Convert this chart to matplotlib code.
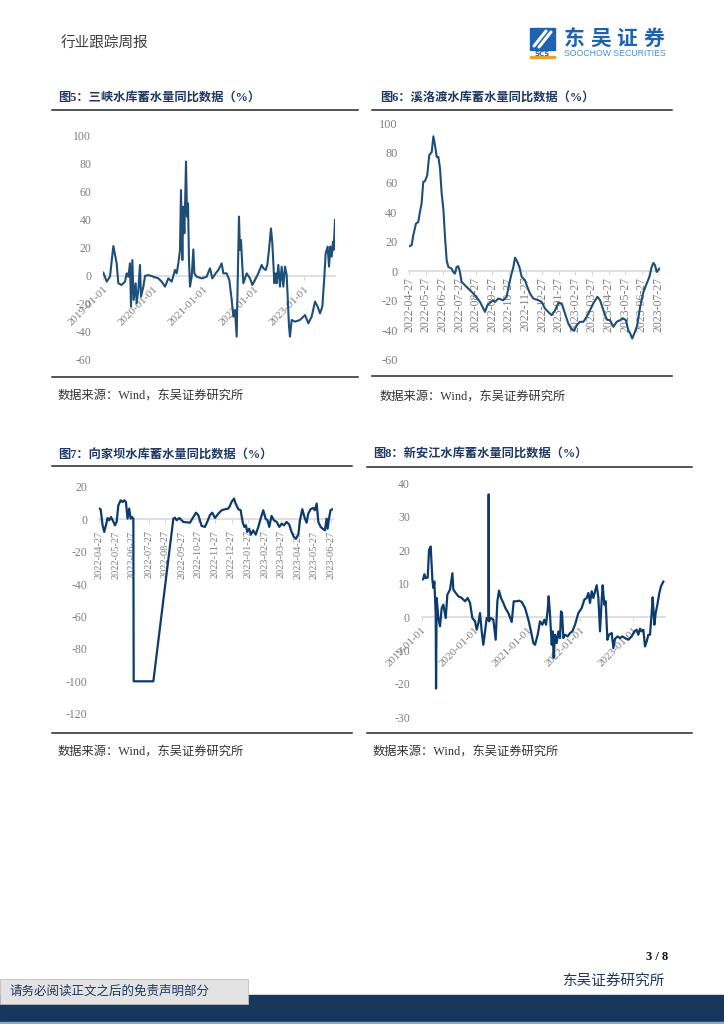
import matplotlib
matplotlib.use('Agg')
import matplotlib.pyplot as plt
from matplotlib.patches import Rectangle

W, H = 724, 1024
plt.rcParams['font.family'] = ['Liberation Serif', 'Noto Sans CJK SC']
plt.rcParams['axes.unicode_minus'] = False

# 图5 三峡 (decimal year, %)
s5_t = [2019.007, 2019.073, 2019.139, 2019.206, 2019.272, 2019.305, 2019.371, 2019.438, 2019.471, 2019.504,
        2019.537, 2019.557, 2019.584, 2019.610, 2019.650, 2019.670, 2019.703, 2019.736, 2019.756, 2019.803,
        2019.836, 2019.902, 2020.002, 2020.101, 2020.167, 2020.234, 2020.300, 2020.367, 2020.433, 2020.466,
        2020.499, 2020.532, 2020.552, 2020.579, 2020.599, 2020.619, 2020.632, 2020.652, 2020.672, 2020.692,
        2020.711, 2020.731, 2020.765, 2020.798, 2020.818, 2020.864, 2020.964, 2021.063, 2021.129, 2021.176,
        2021.242, 2021.295, 2021.362, 2021.395, 2021.461, 2021.514, 2021.561, 2021.594, 2021.627, 2021.660,
        2021.680, 2021.706, 2021.726, 2021.746, 2021.773, 2021.793, 2021.859, 2021.925, 2021.972, 2022.025,
        2022.091, 2022.158, 2022.191, 2022.237, 2022.270, 2022.303, 2022.343, 2022.370, 2022.410, 2022.436,
        2022.456, 2022.489, 2022.522, 2022.556, 2022.589, 2022.622, 2022.655, 2022.675, 2022.702, 2022.721,
        2022.755, 2022.821, 2022.920, 2023.020, 2023.086, 2023.153, 2023.219, 2023.272, 2023.318, 2023.365,
        2023.405, 2023.431, 2023.471, 2023.498, 2023.524, 2023.551, 2023.577, 2023.590, 2023.617]
s5_v = [2.4, -4.0, -0.5, 21.4, 9.0, -5.2, -6.4, -4.0, 1.9, -0.5,
        9.0, -21.9, 11.4, -17.1, -5.2, -19.5, -10.0, 7.9, -14.8, -7.6,
        0.0, 0.7, -0.5, -1.7, -4.0, -7.6, -1.7, -4.0, 4.3, 1.9,
        9.0, 18.6, 61.4, 11.4, 49.5, 30.5, 48.3, 81.7, 42.4, 51.9,
        11.4, -7.6, -0.5, 19.0, 1.9, -0.5, -1.7, -0.5, 5.5, -1.7,
        1.9, 4.3, 9.0, 1.9, 1.9, -2.9, -17.1, -29.0, -24.3, -43.3,
        -5.2, 42.4, 18.6, 25.7, 6.7, -5.2, 1.9, -1.7, -6.4, -2.9,
        1.9, 7.9, 5.5, 4.3, 7.9, 18.6, 34.0, 23.3, -5.2, 1.9,
        -5.2, 7.9, -7.6, 6.7, -7.6, 6.7, 0.7, -14.8, -36.2, -43.3,
        -31.4, -32.6, -31.4, -27.9, -33.8, -29.0, -18.3, -21.9, -26.7, -21.9,
        -0.5, 16.2, 21.0, 6.7, 21.0, 13.8, 24.5, 18.6, 40.0]

# 图6 溪洛渡 (months after 2022-04-27, %)
s6_m = [0.00, 0.14, 0.24, 0.40, 0.54, 0.64, 0.74, 0.84, 0.94, 1.08, 1.20, 1.35, 1.45, 1.55, 1.65, 1.75,
        1.85, 1.95, 2.05, 2.15, 2.25, 2.35, 2.55, 2.65, 2.75, 2.85, 2.95, 3.05, 3.15, 3.45, 3.86, 4.26,
        4.56, 4.70, 4.86, 5.02, 5.16, 5.36, 5.66, 5.86, 6.02, 6.16, 6.27, 6.37, 6.51, 6.63, 6.77, 6.97,
        7.07, 7.27, 7.47, 7.77, 7.97, 8.17, 8.37, 8.57, 8.78, 8.98, 9.18, 9.38, 9.58, 9.78, 9.92, 10.08,
        10.28, 10.48, 10.68, 10.88, 11.08, 11.33, 11.49, 11.69, 11.89, 12.09, 12.29, 12.49, 12.69, 12.89,
        13.05, 13.19, 13.29, 13.43, 13.59, 13.73, 13.90, 14.10, 14.30, 14.46, 14.60, 14.70, 14.80, 14.90, 15.06]
s6_v = [16.9, 17.6, 24.3, 32.2, 33.3, 40.1, 45.7, 60.4, 60.8, 64.9, 78.4, 80.6, 91.2, 85.1, 77.3, 77.3,
        69.4, 52.5, 42.3, 23.2, 7.4, 2.9, 1.8, -0.5, -1.6, 2.9, 3.4, -0.5, -7.2, -10.6, -15.1, -20.7,
        -27.5, -23.0, -21.4, -19.6, -20.7, -18.5, -19.6, -17.3, -8.3, -1.6, 2.9, 9.2, 6.3, 2.9, -3.8, -6.1,
        -9.5, -15.1, -18.5, -19.6, -20.7, -25.2, -27.5, -29.7, -26.4, -21.4, -21.8, -28.6, -35.4, -39.4, -40.3, -36.5,
        -34.2, -34.2, -30.9, -26.4, -21.8, -17.3, -19.6, -26.4, -32.7, -33.1, -37.6, -34.2, -33.1, -32.0,
        -33.1, -39.9, -41.7, -45.5, -41.0, -36.5, -24.1, -14.0, -8.3, -3.8, 2.9, 5.6, 4.1, -0.5, 1.8]
s6_labels = ['2022-04-27', '2022-05-27', '2022-06-27', '2022-07-27', '2022-08-27', '2022-09-27',
             '2022-10-27', '2022-11-27', '2022-12-27', '2023-01-27', '2023-02-27', '2023-03-27',
             '2023-04-27', '2023-05-27', '2023-06-27', '2023-07-27']

# 图7 向家坝 (months after 2022-04-27, %)
s7_m = [0.00, 0.08, 0.20, 0.30, 0.40, 0.50, 0.60, 0.71, 0.81, 0.95, 1.05, 1.15, 1.29, 1.41, 1.51, 1.61,
        1.71, 1.81, 1.90, 1.98, 2.06, 2.08, 3.27, 4.48, 4.58, 4.68, 4.84, 5.08, 5.48, 5.69, 5.85, 5.99,
        6.19, 6.39, 6.53, 6.69, 6.83, 7.00, 7.20, 7.40, 7.60, 7.80, 7.90, 8.00, 8.15, 8.25, 8.41, 8.55,
        8.67, 8.77, 8.87, 8.95, 9.07, 9.17, 9.31, 9.46, 9.62, 9.76, 9.92, 10.06, 10.18, 10.28, 10.42, 10.56,
        10.73, 10.89, 11.03, 11.17, 11.33, 11.49, 11.63, 11.77, 11.90, 12.04, 12.14, 12.28, 12.44, 12.54,
        12.64, 12.78, 12.94, 13.04, 13.15, 13.25, 13.39, 13.51, 13.65, 13.75, 13.81, 13.91, 13.99, 14.11]
s7_v = [6.6, 6.2, -3.7, -7.8, -3.7, 0.8, -0.6, 1.4, -0.6, -3.7, -1.6, 8.6, 11.7, 10.7, 11.7, 10.7,
        0.4, 6.6, 0.4, 1.4, 0.4, -100.0, -100.0, 0.4, 1.0, -0.6, 0.8, -1.6, -2.1, 1.4, 4.1, 2.5,
        -4.1, -4.7, -1.6, 2.5, 4.1, 0.8, 3.5, 5.6, 6.2, 6.6, 8.2, 10.7, 12.8, 9.7, 6.2, 5.6,
        -1.6, -4.7, -3.7, -7.8, -5.8, -9.5, -6.8, -9.5, -4.7, 0.4, 5.6, 0.4, -0.6, -4.7, 2.1, -0.6,
        -1.6, -4.7, -2.7, -3.7, -1.6, -3.3, -7.8, -10.9, -11.9, -9.5, -0.6, 6.2, 0.4, -2.1,
        3.5, 6.2, 7.0, 5.6, 9.7, -1.6, -4.7, -5.8, -6.8, 0.4, -5.8, 1.4, 5.6, 6.2]
s7_labels = s6_labels[:15]

# 图8 新安江 (decimal year, %)
s8_t = [2019.000, 2019.031, 2019.050, 2019.076, 2019.113, 2019.139, 2019.170, 2019.202, 2019.220, 2019.239,
        2019.265, 2019.271, 2019.283, 2019.315, 2019.346, 2019.378, 2019.409, 2019.454, 2019.485, 2019.535,
        2019.580, 2019.598, 2019.643, 2019.693, 2019.756, 2019.819, 2019.869, 2019.913, 2019.957, 2020.008,
        2020.039, 2020.071, 2020.102, 2020.134, 2020.165, 2020.197, 2020.228, 2020.260, 2020.266, 2020.272,
        2020.310, 2020.354, 2020.398, 2020.430, 2020.461, 2020.499, 2020.543, 2020.587, 2020.638, 2020.701,
        2020.739, 2020.795, 2020.839, 2020.890, 2020.953, 2021.016, 2021.066, 2021.110, 2021.142, 2021.192,
        2021.236, 2021.280, 2021.318, 2021.350, 2021.381, 2021.400, 2021.425, 2021.457, 2021.476, 2021.494,
        2021.520, 2021.551, 2021.583, 2021.614, 2021.633, 2021.652, 2021.677, 2021.709, 2021.759, 2021.803,
        2021.847, 2021.898, 2021.961, 2022.024, 2022.074, 2022.118, 2022.150, 2022.181, 2022.213, 2022.244,
        2022.276, 2022.307, 2022.339, 2022.370, 2022.402, 2022.420, 2022.452, 2022.477, 2022.509, 2022.540,
        2022.591, 2022.622, 2022.654, 2022.704, 2022.748, 2022.792, 2022.843, 2022.906, 2022.969, 2023.019,
        2023.063, 2023.094, 2023.126, 2023.157, 2023.189, 2023.220, 2023.252, 2023.283, 2023.315, 2023.346,
        2023.365, 2023.397, 2023.422, 2023.454, 2023.491, 2023.523, 2023.567]
s8_v = [11.1, 11.4, 12.8, 11.6, 11.8, 20.1, 21.1, 11.1, 8.7, 10.6,
        0.7, -21.4, 5.7, -0.3, -2.8, 2.7, 3.7, -0.3, 6.7, 8.2,
        13.1, 8.2, 7.2, 6.2, 5.7, 4.7, 5.7, 4.2, -0.3, -1.3,
        -3.8, -1.8, 1.2, -4.3, -8.3, -4.3, -0.3, -0.8, 36.7, -1.3,
        -0.3, -0.8, -6.8, 4.7, 7.9, 5.7, 4.2, 2.5, 1.2, -1.5,
        4.7, 4.7, 4.9, 4.5, 2.7, -0.8, -4.3, -7.8, -8.3, -5.3,
        -1.3, -2.3, -0.8, -2.3, 2.2, 6.2, 0.7, -8.3, -4.3, -12.2,
        -5.3, -7.8, -4.3, -6.3, 1.7, 1.2, -6.3, -5.3, -5.8, -4.8,
        -4.3, -2.3, 1.2, 2.7, 5.2, 5.7, 7.2, 4.2, 7.7, 5.7,
        7.7, 9.5, 5.7, -4.3, 5.2, 9.5, 3.7, 4.7, -6.8, -5.3,
        -4.8, -9.3, -6.5, -5.8, -6.3, -5.8, -6.3, -6.8, -5.8, -4.3,
        -3.8, -5.3, -3.5, -4.3, -3.8, -8.8, -7.3, -5.3, -5.3, 1.2,
        5.9, -2.3, 1.2, 3.7, 7.2, 9.2, 10.6]

year_ticks = [2019, 2020, 2021, 2022, 2023]
year_labels = ['2019-01-01', '2020-01-01', '2021-01-01', '2022-01-01', '2023-01-01']

titles = ['图5：三峡水库蓄水量同比数据（%）', '图6：溪洛渡水库蓄水量同比数据（%）',
          '图7：向家坝水库蓄水量同比数据（%）', '图8：新安江水库蓄水量同比数据（%）']
source = '数据来源：Wind，东吴证券研究所'

NAVY = '#1f3864'
GRAY = '#7f7f7f'

fig = plt.figure(figsize=(W / 100, H / 100), dpi=100)
page = fig.add_axes([0, 0, 1, 1])
page.set_xlim(0, W)
page.set_ylim(H, 0)
page.axis('off')

# header
page.text(61, 44, '行业跟踪周报', fontsize=10.5, color='#404040', va='center', family='Noto Sans CJK SC')
page.add_patch(Rectangle((530, 28), 25, 22, color='#1f63b0'))
page.plot([534, 546], [46, 31], color='white', lw=2.2, solid_capstyle='round')
page.plot([539, 551], [47, 32], color='white', lw=2.2, solid_capstyle='round')
page.text(542.5, 53.5, 'SCS', fontsize=5, color='#1f63b0', ha='center', va='center',
          fontweight='bold', family='DejaVu Sans')
page.add_patch(Rectangle((530, 56), 25, 1.6, color='#f0a030'))
for i, ch in enumerate('东吴证券'):
    page.text(574 + i * 26.5, 38.5, ch, fontsize=15, color='#1f63b0', ha='center', va='center',
              fontweight='bold', family='Noto Sans CJK SC')
page.text(615, 54, 'SOOCHOW SECURITIES', fontsize=6.3, color='#4a90d0', ha='center', va='center',
          family='Liberation Sans')

# footer
page.text(668, 957, '3 / 8', fontsize=9, fontweight='bold', ha='right', va='center', color='#111111')
page.text(665, 981, '东吴证券研究所', fontsize=10.5, ha='right', va='center', color=NAVY,
          family='Noto Sans CJK SC')
page.add_patch(Rectangle((0, 995), W, 27, color='#17375e'))
page.add_patch(Rectangle((0, 1022), W, 2, color='#8ea9c8'))
page.add_patch(Rectangle((0, 979), 248, 25, facecolor='#e3e3e3', edgecolor='#bdbdbd', lw=0.6))
page.text(9, 991, '请务必阅读正文之后的免责声明部分', fontsize=9, va='center', color=NAVY,
          family='Noto Sans CJK SC')


def panel(x0, x1, ytop, ybot, title, tx, ty, sy):
    page.plot([x0, x1], [ytop, ytop], color='#262626', lw=1.1)
    page.plot([x0, x1], [ybot, ybot], color='#262626', lw=1.1)
    page.text(tx, ty, title, fontsize=8.8, fontweight='bold', color=NAVY, va='center')
    page.text(tx, sy, source, fontsize=8.8, color='#333333', va='center')


panel(52, 358, 109.5, 376.5, titles[0], 58, 98, 396.5)
panel(372, 672, 109.5, 376, titles[1], 380, 98, 397.5)
panel(52, 352, 466, 733, titles[2], 58, 455, 753)
panel(367, 692, 466.5, 733, titles[3], 373, 455, 753)


def chart_axes(left, top, width, height):
    return fig.add_axes([left / W, 1 - (top + height) / H, width / W, height / H])


def style(ax, yticks, ysize, xsize, xpad):
    for s in ['top', 'right', 'left']:
        ax.spines[s].set_visible(False)
    ax.spines['bottom'].set_position(('data', 0))
    ax.spines['bottom'].set_color('#d9d9d9')
    ax.spines['bottom'].set_linewidth(1.2)
    ax.set_yticks(yticks)
    ax.tick_params(axis='y', length=0, pad=8.5, labelsize=ysize, labelcolor=GRAY)
    ax.tick_params(axis='x', length=3, color='#d9d9d9', labelsize=xsize, labelcolor=GRAY, pad=xpad)
    ax.patch.set_alpha(0)


# 图5
ax5 = chart_axes(103, 136, 232, 224)
ax5.plot(s5_t, s5_v, color='#1f4e79', lw=1.5, zorder=3)
ax5.set_xlim(2019.0, 2023.617)
ax5.set_ylim(-60, 100)
style(ax5, range(-60, 101, 20), 8.5, 8, 3)
ax5.set_xticks(year_ticks)
ax5.set_xticklabels(year_labels, rotation=45, ha='right', rotation_mode='anchor')

# 图6
ax6 = chart_axes(409.3, 123.3, 250.7, 236.7)
ax6.plot(s6_m, s6_v, color='#1f4e79', lw=1.5, zorder=3)
ax6.set_xlim(0, 15.1)
ax6.set_ylim(-60, 100)
style(ax6, range(-60, 101, 20), 8.8, 8.5, 1)
ax6.set_xticks(range(len(s6_labels)))
ax6.set_xticklabels(s6_labels, rotation=90)

# 图7
ax7 = chart_axes(99.3, 486.9, 233.9, 226.8)
ax7.plot(s7_m, s7_v, color='#0d3b6e', lw=1.6, zorder=3)
ax7.set_xlim(0, 14.15)
ax7.set_ylim(-120, 20)
style(ax7, range(-120, 21, 20), 8.5, 7.5, 5)
ax7.set_xticks(range(len(s7_labels)))
ax7.set_xticklabels(s7_labels, rotation=90)

# 图8
ax8 = chart_axes(421.7, 483.3, 243.4, 234)
ax8.plot(s8_t, s8_v, color='#0d3b6e', lw=1.6, zorder=3)
ax8.set_xlim(2019.0, 2023.6)
ax8.set_ylim(-30, 40)
style(ax8, range(-30, 41, 10), 8.5, 8, 3)
ax8.set_xticks(year_ticks)
ax8.set_xticklabels(year_labels, rotation=45, ha='right', rotation_mode='anchor')

fig.savefig('out.png', dpi=100)
